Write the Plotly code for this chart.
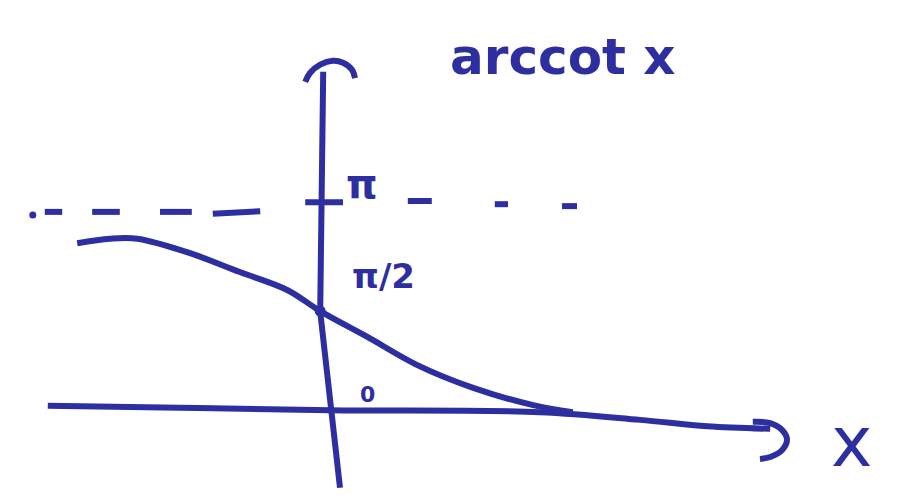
import plotly.graph_objects as go

INK = "#2d2ea0"
FONT = "DejaVu Sans"

# sketch of arccot x, in sketch units (x-axis at y=0, asymptote near y=pi)
curve_x = [-4.13, -3.58, -3.13, -2.30, -1.42, -0.63, -0.08, 0.70, 1.53, 2.47, 3.47, 4.13]
curve_y = [2.59, 2.66, 2.66, 2.45, 2.14, 1.86, 1.53, 1.13, 0.69, 0.33, 0.06, -0.05]

# hand-drawn axes
yaxis_x = [-0.03, -0.08, 0.25]
yaxis_y = [5.27, 1.52, -1.23]
ycap_x = [-0.33, -0.25, -0.08, 0.13, 0.30, 0.45, 0.50]
ycap_y = [5.11, 5.25, 5.38, 5.44, 5.41, 5.30, 5.17]

xaxis_x = [-4.62, -2.42, 0.08, 3.58, 5.25, 6.37, 7.42]
xaxis_y = [0.05, 0.02, -0.02, -0.05, -0.17, -0.27, -0.31]
xcap_x = [7.13, 7.42, 7.62, 7.70, 7.62, 7.42, 7.25]
xcap_y = [-0.20, -0.22, -0.33, -0.48, -0.64, -0.75, -0.78]

# tick at pi on the vertical axis
tick_x = [-0.33, 0.30]
tick_y = [3.23, 3.23]

# dashed asymptote y = pi (segments separated by gaps)
dash_x = [-4.67, -4.38, None, -3.88, -3.42, None, -2.75, -2.22, None, -1.87, -1.08, None,
          1.38, 1.78, None, 2.83, 3.05, None, 3.95, 4.20]
dash_y = [3.08, 3.08, None, 3.08, 3.08, None, 3.08, 3.08, None, 3.05, 3.09, None,
          3.25, 3.25, None, 3.20, 3.20, None, 3.17, 3.17]
dot_x = [-4.87]
dot_y = [3.03]

# point where the curve meets the vertical axis (pi/2)
meet_x = [-0.08]
meet_y = [1.53]

labels = ["arccot x", "π", "π/2", "0", "x"]
label_x = [3.97, 0.62, 0.97, 0.70, 8.78]
label_y = [5.50, 3.52, 2.08, 0.23, -0.52]
label_size = [50, 40, 34, 22, 70]
label_bold = [True, True, True, True, False]

fig = go.Figure()

def stroke(xs, ys, width, smooth=True):
    fig.add_trace(go.Scatter(
        x=xs, y=ys, mode="lines",
        line=dict(color=INK, width=width, shape="spline" if smooth else "linear"),
        hoverinfo="skip", connectgaps=False,
    ))

stroke(yaxis_x, yaxis_y, 6, smooth=False)
stroke(ycap_x, ycap_y, 6)
stroke(xaxis_x, xaxis_y, 6)
stroke(xcap_x, xcap_y, 6)
stroke(tick_x, tick_y, 6, smooth=False)
stroke(dash_x, dash_y, 6, smooth=False)
stroke(curve_x, curve_y, 6)

fig.add_trace(go.Scatter(x=dot_x, y=dot_y, mode="markers",
                         marker=dict(color=INK, size=7), hoverinfo="skip"))
fig.add_trace(go.Scatter(x=meet_x, y=meet_y, mode="markers",
                         marker=dict(color=INK, size=11), hoverinfo="skip"))

for t, lx, ly, sz, b in zip(labels, label_x, label_y, label_size, label_bold):
    fig.add_annotation(
        x=lx, y=ly, xref="x", yref="y", text=f"<b>{t}</b>" if b else t,
        showarrow=False, xanchor="center", yanchor="middle",
        font=dict(family=FONT, size=sz, color=INK),
    )

fig.update_layout(
    width=904, height=498,
    margin=dict(l=0, r=0, t=0, b=0),
    paper_bgcolor="white", plot_bgcolor="white",
    showlegend=False,
    xaxis=dict(range=[-325 / 60, 579 / 60], visible=False, fixedrange=True),
    yaxis=dict(range=[-89 / 64, 409 / 64], visible=False, fixedrange=True),
)

fig.write_html("out.html", config={"displayModeBar": False})
